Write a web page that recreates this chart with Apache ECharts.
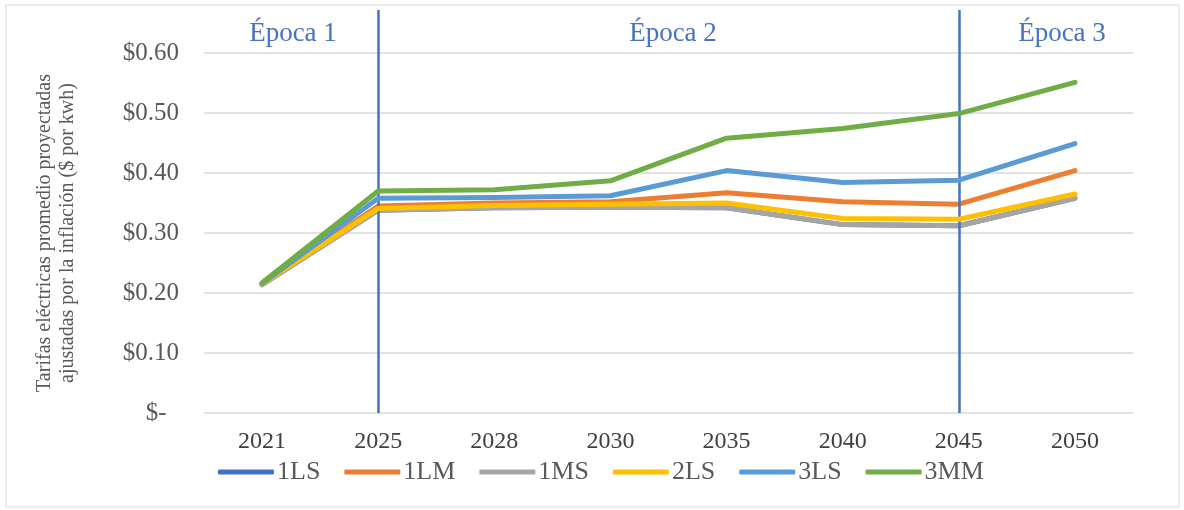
<!DOCTYPE html>
<html>
<head>
<meta charset="utf-8">
<script src="https://cdn.jsdelivr.net/npm/echarts@6/dist/echarts.min.js"></script>
<style>
html,body{margin:0;padding:0;background:#fff;}
#c{width:1184px;height:510px;}
</style>
</head>
<body>
<div id="c"></div>
<script>
const categories = ['2021','2025','2028','2030','2035','2040','2045','2050'];
const s1LS = [0.214, 0.338, 0.342, 0.343, 0.342, 0.314, 0.312, 0.358];
const s1LM = [0.215, 0.345, 0.350, 0.352, 0.367, 0.352, 0.348, 0.404];
const s1MS = [0.214, 0.338, 0.342, 0.343, 0.342, 0.314, 0.312, 0.358];
const s2LS = [0.215, 0.341, 0.346, 0.348, 0.350, 0.324, 0.323, 0.365];
const s3LS = [0.216, 0.358, 0.359, 0.362, 0.404, 0.384, 0.388, 0.449];
const s3MM = [0.217, 0.370, 0.372, 0.387, 0.458, 0.474, 0.499, 0.551];
const seriesNames = ['1LS','1LM','1MS','2LS','3LS','3MM'];
const seriesColors = ['#4472C4','#ED7D31','#A5A5A5','#FFC000','#5B9BD5','#70AD47'];
const epochBoundaries = ['2025','2045'];
const epochLabels = ['Época 1','Época 2','Época 3'];
const yTitle = 'Tarifas eléctricas promedio proyectadas\najustadas por la inflación ($ por kwh)';

const FONT = "'Liberation Serif','Times New Roman',serif";
const allData = [s1LS, s1LM, s1MS, s2LS, s3LS, s3MM];

const chart = echarts.init(document.getElementById('c'), null, {renderer:'canvas'});

const lineSeries = seriesNames.map((n, i) => ({
  name: n,
  type: 'line',
  xAxisIndex: 0,
  yAxisIndex: 0,
  data: allData[i],
  showSymbol: false,
  symbol: 'none',
  smooth: false,
  color: seriesColors[i],
  lineStyle: {width: 5, color: seriesColors[i], cap: 'round', join: 'round'},
  emphasis: {disabled: true},
  z: 2 + i
}));

const option = {
  animation: false,
  backgroundColor: '#fff',
  textStyle: {fontFamily: FONT},
  grid: [
    {left: 204, right: 51, top: 53, bottom: 97},
    {left: 204, right: 51, top: 10, bottom: 97}
  ],
  xAxis: [
    {
      type: 'category', gridIndex: 0, data: categories, boundaryGap: true,
      axisLine: {show: false}, axisTick: {show: false},
      axisLabel: {color: '#404040', fontFamily: FONT, fontSize: 24, margin: 17}
    },
    {
      type: 'category', gridIndex: 1, data: categories, boundaryGap: true, show: false
    }
  ],
  yAxis: [
    {
      type: 'value', gridIndex: 0, min: 0, max: 0.6, interval: 0.1,
      axisLine: {show: false}, axisTick: {show: false},
      splitLine: {lineStyle: {color: '#d9d9d9', width: 1.5}},
      axisLabel: {
        color: '#595959', fontFamily: FONT, fontSize: 25, margin: 25,
        formatter: v => v === 0 ? '$-  ' : '$' + v.toFixed(2)
      },
      name: yTitle,
      nameLocation: 'middle',
      nameRotate: 90,
      nameGap: 125,
      nameTextStyle: {color: '#595959', fontFamily: FONT, fontSize: 20, lineHeight: 23}
    },
    {type: 'value', gridIndex: 1, min: 0, max: 1, show: false}
  ],
  legend: {
    data: seriesNames,
    left: 218,
    top: 459,
    padding: 0,
    itemWidth: 56,
    itemHeight: 5,
    itemGap: 24,
    icon: 'roundRect',
    textStyle: {color: '#595959', fontFamily: FONT, fontSize: 26, padding: [0, 0, 0, -2]}
  },
  graphic: [
    {type: 'rect', shape: {x: 6, y: 5, width: 1173, height: 502}, style: {fill: 'none', stroke: '#d9d9d9', lineWidth: 1}, z: -1},
    {type: 'text', style: {x: 293, y: 34, text: epochLabels[0], fill: '#4472C4', font: '27px ' + FONT, textAlign: 'center', textVerticalAlign: 'middle'}},
    {type: 'text', style: {x: 673, y: 34, text: epochLabels[1], fill: '#4472C4', font: '27px ' + FONT, textAlign: 'center', textVerticalAlign: 'middle'}},
    {type: 'text', style: {x: 1062, y: 34, text: epochLabels[2], fill: '#4472C4', font: '27px ' + FONT, textAlign: 'center', textVerticalAlign: 'middle'}}
  ],
  series: lineSeries.concat([{
    name: 'epochs',
    type: 'line',
    xAxisIndex: 1,
    yAxisIndex: 1,
    data: categories.map(() => null),
    symbol: 'none',
    silent: true,
    z: 20,
    markLine: {
      silent: true,
      symbol: ['none','none'],
      label: {show: false},
      lineStyle: {type: 'solid', color: '#4472C4', width: 2.5},
      data: epochBoundaries.map(b => ({xAxis: b}))
    }
  }])
};
chart.setOption(option);
</script>
</body>
</html>
